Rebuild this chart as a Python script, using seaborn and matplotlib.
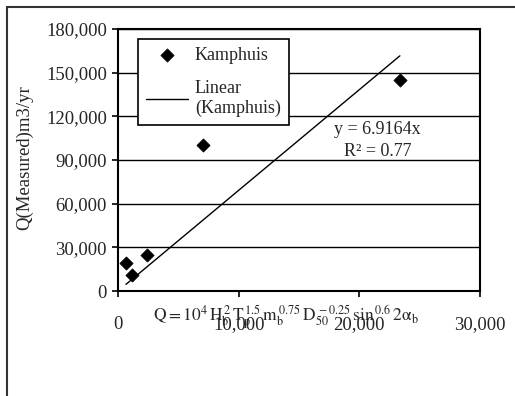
import numpy as np
import pandas as pd
import matplotlib
matplotlib.use("Agg")
import matplotlib.pyplot as plt
from matplotlib.patches import Rectangle
from matplotlib.ticker import FuncFormatter
import seaborn as sns

# values
q_calc = [660, 1160, 2400, 7040, 23360]
q_measured = [19500, 11000, 24500, 100300, 145000]
slope = 6.9164
r_squared = 0.77
x_ticks = [0, 10000, 20000, 30000]
y_ticks = [0, 30000, 60000, 90000, 120000, 150000, 180000]

df = pd.DataFrame({"calc": q_calc, "measured": q_measured})
fit_x = np.array([min(q_calc), max(q_calc)])
fit = pd.DataFrame({"calc": fit_x, "measured": slope * fit_x})

sns.set_style("ticks")
plt.rcParams["font.family"] = ["Liberation Serif", "DejaVu Serif"]
plt.rcParams["mathtext.fontset"] = "stix"

fig = plt.figure(figsize=(5.15, 3.96), dpi=100)
ax = fig.add_axes([118 / 515, 1 - 291 / 396, 362 / 515, 262 / 396])

sns.scatterplot(data=df, x="calc", y="measured", marker="D", color="black",
                s=45, edgecolor="black", label="Kamphuis", ax=ax, zorder=3)
sns.lineplot(data=fit, x="calc", y="measured", color="black", lw=1,
             label="Linear\n(Kamphuis)", ax=ax, zorder=3)

ax.set_xlim(0, 30000)
ax.set_ylim(0, 180000)
ax.set_xticks(x_ticks)
ax.set_yticks(y_ticks)
fmt = FuncFormatter(lambda v, p: f"{v:,.0f}")
ax.xaxis.set_major_formatter(fmt)
ax.yaxis.set_major_formatter(fmt)
ax.tick_params(axis="both", labelsize=13.5, color="black", width=1.2,
               direction="out", length=4, pad=4)
ax.tick_params(axis="x", pad=14)
ax.yaxis.grid(True, color="black", lw=1)
ax.xaxis.grid(False)
for sp in ax.spines.values():
    sp.set_visible(True)
    sp.set_color("black")
    sp.set_linewidth(1.5)
ax.set_xlabel("")
ax.set_ylabel("")

fig.text(25 / 515, 1 - 158 / 396, "Q(Measured)m3/yr", rotation=90,
         ha="center", va="center", fontsize=13.5)

# formula sits on top of the x tick labels, as in the reference
ax.text(0.097, -0.118,
        r"$\mathrm{Q = 10^4\,H_b^{\,2}\,T_p^{\,1.5}\,m_b^{\,0.75}\,D_{50}^{\,-0.25}\,sin^{\,0.6}\,2\alpha_b}$",
        transform=ax.transAxes, ha="left", va="baseline", fontsize=12.5)

ax.text(21500, 108000, f"y = {slope}x", ha="center", va="baseline",
        fontsize=13)
ax.text(21500, 93000, f"R² = {r_squared}", ha="center",
        va="baseline", fontsize=13)

leg = ax.legend(loc="upper left", bbox_to_anchor=(0.055, 0.962),
                borderaxespad=0, fontsize=13, frameon=True, fancybox=False,
                framealpha=1, edgecolor="black", handlelength=2.3,
                handletextpad=0.4, labelspacing=0.9, borderpad=0.45)
leg.get_frame().set_linewidth(1.2)

fig.patches.append(Rectangle((7 / 515, -0.5), 2, 1.5 - 7 / 396,
                             transform=fig.transFigure, fill=False,
                             edgecolor="#333333", lw=1.5))

fig.savefig("out.png", dpi=100)
